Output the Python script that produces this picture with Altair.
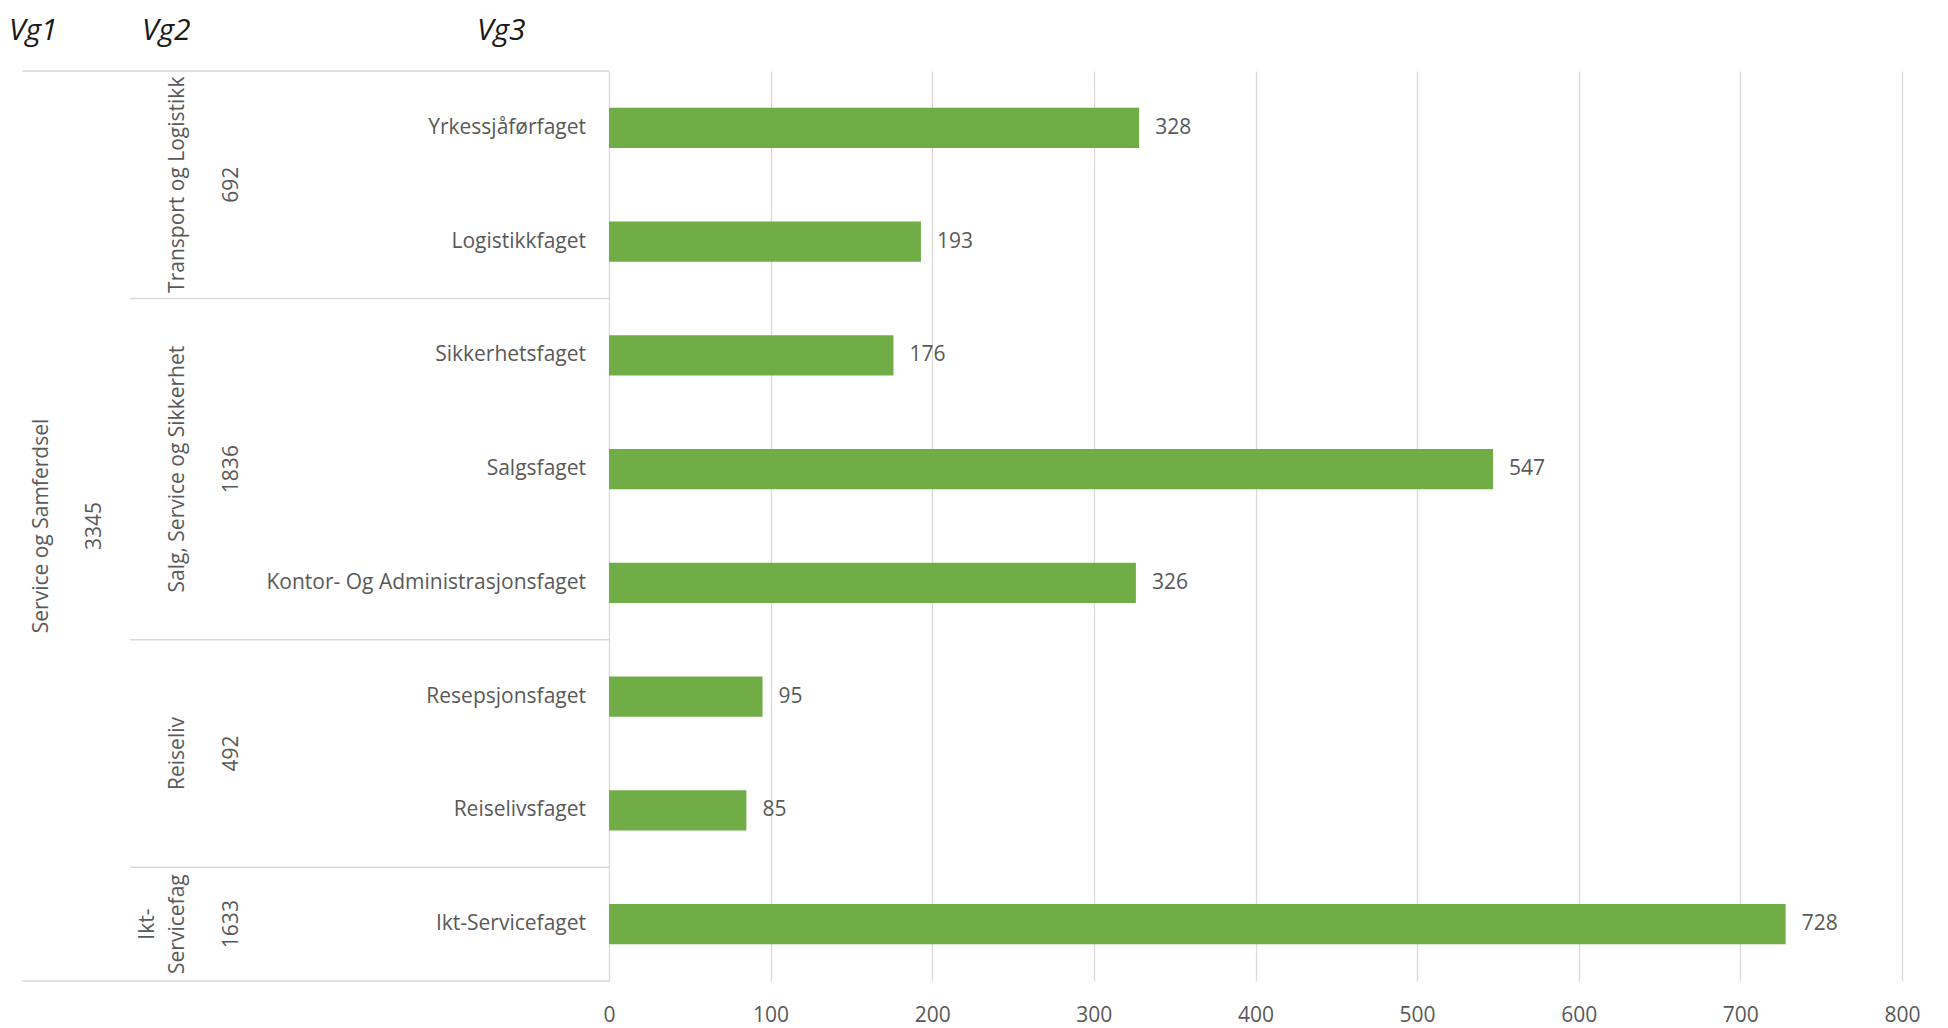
import altair as alt
import pandas as pd

# ---------------- data ----------------
vg1_name = "Service og Samferdsel"
vg1_total = 3345
vg2_names = ["Transport og Logistikk", "Salg, Service og Sikkerhet", "Reiseliv", "Ikt-\nServicefag"]
vg2_totals = [692, 1836, 492, 1633]
vg3_names = ["Yrkessjåførfaget", "Logistikkfaget", "Sikkerhetsfaget", "Salgsfaget",
             "Kontor- Og Administrasjonsfaget", "Resepsjonsfaget", "Reiselivsfaget",
             "Ikt-Servicefaget"]
vg3_group = [0, 0, 1, 1, 1, 2, 2, 3]
vg3_values = [328, 193, 176, 547, 326, 95, 85, 728]
headers = ["Vg1", "Vg2", "Vg3"]
x_ticks = [0, 100, 200, 300, 400, 500, 600, 700, 800]

# ---------------- derived tables ----------------
n = len(vg3_names)
bars = pd.DataFrame({"name": vg3_names, "value": vg3_values, "row": list(range(n))})
bars["mid"] = bars["row"] + 0.5
half = 0.176
bars["y0"] = bars["mid"] - half
bars["y1"] = bars["mid"] + half
bars["start"] = 0

sizes = [vg3_group.count(g) for g in range(len(vg2_names))]
starts = [sum(sizes[:i]) for i in range(len(sizes))]
groups = pd.DataFrame({
    "name": vg2_names,
    "total": vg2_totals,
    "mid": [s + c / 2 for s, c in zip(starts, sizes)],
    "lines": [nm.count("\n") + 1 for nm in vg2_names],
})
top = pd.DataFrame({"name": [vg1_name], "total": [vg1_total], "mid": [n / 2]})
inner_bounds = pd.DataFrame({"b": starts[1:]})
outer_bounds = pd.DataFrame({"b": [0, n]})

# ---------------- styling ----------------
FONT = "Open Sans"
TXT = "#595959"
GRID = "#D9D9D9"
GREEN = "#70AD47"
FS = 21
LH = 30

xscale = alt.Scale(domain=[0, 800], nice=False, zero=True)
yscale = alt.Scale(domain=[0, n], reverse=True, nice=False, zero=False)
xaxis = alt.Axis(values=x_ticks, grid=True, gridColor=GRID, gridWidth=1.3, domain=False,
                 ticks=False, tickSize=0, labelPadding=23, labelFont=FONT,
                 labelFontSize=FS, labelColor=TXT, title=None, labelFlush=False)

bar = alt.Chart(bars).mark_rect(color=GREEN).encode(
    x=alt.X("start:Q", scale=xscale, axis=xaxis),
    x2="value:Q",
    y=alt.Y("y0:Q", scale=yscale, axis=None),
    y2="y1:Q",
)

values = alt.Chart(bars).mark_text(align="left", baseline="middle", dx=16, font=FONT,
                                   fontSize=FS, color=TXT).encode(
    x=alt.X("value:Q", scale=xscale, axis=xaxis),
    y=alt.Y("mid:Q", scale=yscale, axis=None),
    text="value:Q",
)

vg3_labels = alt.Chart(bars).mark_text(align="right", baseline="middle", font=FONT,
                                       fontSize=FS, color=TXT).encode(
    x=alt.value(-23),
    y=alt.Y("mid:Q", scale=yscale, axis=None),
    text="name:N",
)

VG2_X = -421
vg2_single = alt.Chart(groups).transform_filter("datum.lines == 1").mark_text(
    angle=270, align="center", baseline="bottom", font=FONT, fontSize=FS, color=TXT).encode(
    x=alt.value(VG2_X),
    y=alt.Y("mid:Q", scale=yscale, axis=None),
    text="name:N",
)

vg2_multi = alt.Chart(groups).transform_filter("datum.lines > 1").mark_text(
    angle=270, align="center", baseline="bottom", lineBreak="\n", lineHeight=LH,
    font=FONT, fontSize=FS, color=TXT).encode(
    x=alt.value(VG2_X - LH),
    y=alt.Y("mid:Q", scale=yscale, axis=None),
    text="name:N",
)

vg2_totals_t = alt.Chart(groups).mark_text(angle=270, align="center", baseline="middle",
                                           font=FONT, fontSize=FS, color=TXT).encode(
    x=alt.value(-377),
    y=alt.Y("mid:Q", scale=yscale, axis=None),
    text="total:Q",
)

vg1_label = alt.Chart(top).mark_text(angle=270, align="center", baseline="middle",
                                     font=FONT, fontSize=FS, color=TXT).encode(
    x=alt.value(-567),
    y=alt.Y("mid:Q", scale=yscale, axis=None),
    text="name:N",
)

vg1_total_t = alt.Chart(top).mark_text(angle=270, align="center", baseline="middle",
                                       font=FONT, fontSize=FS, color=TXT).encode(
    x=alt.value(-514),
    y=alt.Y("mid:Q", scale=yscale, axis=None),
    text="total:Q",
)

inner_rules = alt.Chart(inner_bounds).mark_rule(color=GRID, strokeWidth=1.5).encode(
    y=alt.Y("b:Q", scale=yscale, axis=None),
    x=alt.value(-479),
    x2=alt.value(0),
)

outer_rules = alt.Chart(outer_bounds).mark_rule(color=GRID, strokeWidth=1.5).encode(
    y=alt.Y("b:Q", scale=yscale, axis=None),
    x=alt.value(-587),
    x2=alt.value(0),
)

header_x = [-600, -467, -132]
header_layers = []
for h, hx in zip(headers, header_x):
    header_layers.append(
        alt.Chart(pd.DataFrame({"h": [h]})).mark_text(
            align="left", baseline="alphabetic", font=FONT, fontStyle="italic",
            fontSize=30, color="#1a1a1a").encode(
            x=alt.value(hx), y=alt.value(-31), text="h:N")
    )

chart = alt.layer(
    outer_rules, inner_rules, bar, values, vg3_labels, vg2_single, vg2_multi, vg2_totals_t,
    vg1_label, vg1_total_t, *header_layers
).properties(
    width=1293,
    height=910,
    padding={"left": 601, "top": 63, "right": 30, "bottom": 46},
    autosize=alt.AutoSizeParams(type="none"),
    background="white",
).configure_view(stroke=None)

chart.save("out.html", embed_options={"renderer": "svg", "actions": False})
